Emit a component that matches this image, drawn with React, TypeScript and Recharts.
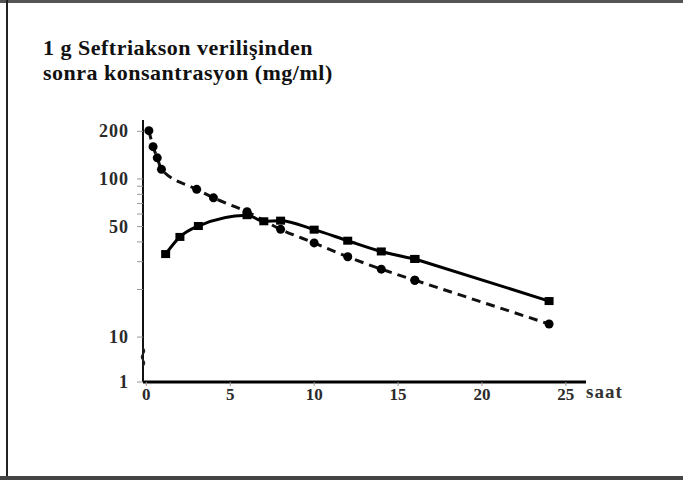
import { LineChart, Line, XAxis, YAxis } from 'recharts';

// hours after the dose / concentration (mg/ml)
const dashedHours = [0.15, 0.4, 0.65, 0.9, 3, 4, 6, 8, 10, 12, 14, 16, 24];
const dashedConc = [202, 160, 136, 115, 86, 76, 62, 48, 39.4, 32.2, 26.9, 22.9, 12.1];
const solidHours = [1.15, 2, 3.1, 6, 7, 8, 10, 12, 14, 16, 24];
const solidConc = [33.5, 43, 50.4, 59, 54, 54.5, 47.8, 40.7, 34.8, 31.2, 16.9];

const xTicks = [0, 5, 10, 15, 20, 25];
// axis is broken below 10: the bottom tick is labelled "1"
const Y_BREAK = 5.2;
const yTicks = [Y_BREAK, 10, 20, 30, 40, 50, 60, 70, 80, 90, 100, 200];
const yTickText = ['1', '10', '', '', '', '50', '', '', '', '', '100', '200'];

const toRows = (hours: number[], conc: number[]) => hours.map((t, i) => ({ t, c: conc[i] }));
const dashedData = toRows(dashedHours, dashedConc);
const solidData = toRows(solidHours, solidConc);
// the last stretch (16 -> 24 h) is a straight line, the rest is smoothed
const dashedCurve = dashedData.slice(0, -1);
const dashedTail = dashedData.slice(-2);
const solidCurve = solidData.slice(0, -1);
const solidTail = solidData.slice(-2);

const serif = "'Liberation Serif', 'Times New Roman', Times, serif";

function YTick(props: any) {
  const { x, y, payload } = props;
  const label = yTickText[yTicks.indexOf(payload.value)];
  const ax = x + 10;
  return (
    <g>
      <text
        x={x - 4}
        y={y}
        dy={6}
        textAnchor="end"
        fontFamily={serif}
        fontWeight="bold"
        fontSize={18}
        letterSpacing={1}
        fill="#2a2a2a"
      >
        {label}
      </text>
      {payload.value === Y_BREAK && (
        <path
          d={`M ${ax} ${y - 34} q 3 3 0 6 q -3 3 0 6 q 3 3 0 6`}
          fill="none"
          stroke="#222"
          strokeWidth={1.5}
        />
      )}
    </g>
  );
}

function CircleDot(props: any) {
  const { cx, cy, index } = props;
  return <circle key={`c${index}`} cx={cx} cy={cy} r={4.5} fill="#000" />;
}

function SquareDot(props: any) {
  const { cx, cy, index } = props;
  return <rect key={`s${index}`} x={cx - 4.5} y={cy - 4} width={9} height={8} fill="#000" />;
}

export default function App() {
  return (
    <div style={{ position: 'absolute', left: 0, top: 0, width: 683, height: 480, background: '#fff' }}>
      <div style={{ position: 'absolute', left: 0, top: 0, width: 683, height: 3, background: '#555' }} />
      <div style={{ position: 'absolute', left: 6, top: 0, width: 2, height: 480, background: '#222' }} />
      <div style={{ position: 'absolute', left: 0, top: 476, width: 683, height: 4, background: '#444' }} />
      <div
        style={{
          position: 'absolute',
          left: 43,
          top: 35,
          fontFamily: serif,
          fontWeight: 'bold',
          fontSize: 22,
          letterSpacing: 0.5,
          lineHeight: '25px',
          color: '#111',
          whiteSpace: 'nowrap',
        }}
      >
        1 g Seftriakson verilişinden
        <br />
        sonra konsantrasyon (mg/ml)
      </div>
      <div
        style={{
          position: 'absolute',
          left: 586,
          top: 381,
          fontFamily: serif,
          fontWeight: 'bold',
          fontSize: 19,
          letterSpacing: 1,
          color: '#333',
        }}
      >
        saat
      </div>
      <LineChart width={683} height={480} margin={{ top: 120, right: 97, bottom: 68, left: 83 }}>
        <XAxis
          type="number"
          dataKey="t"
          domain={[-0.2, 26.2]}
          ticks={xTicks}
          allowDataOverflow
          axisLine={{ stroke: '#000', strokeWidth: 3 }}
          tickLine={{ stroke: '#999' }}
          tickSize={4}
          height={30}
          tick={{ fontFamily: serif, fontWeight: 'bold', fontSize: 17, fill: '#2a2a2a' }}
        />
        <YAxis
          type="number"
          scale="log"
          domain={[Y_BREAK, 236]}
          ticks={yTicks}
          allowDataOverflow
          width={60}
          axisLine={{ stroke: '#111', strokeWidth: 2 }}
          tickLine={{ stroke: '#999' }}
          tickSize={6}
          tickMargin={4}
          tick={<YTick />}
          interval={0}
        />
        <Line
          data={dashedCurve}
          dataKey="c"
          type="monotone"
          stroke="#111"
          strokeWidth={3}
          strokeDasharray="9 6"
          dot={<CircleDot />}
          isAnimationActive={false}
        />
        <Line
          data={dashedTail}
          dataKey="c"
          type="linear"
          stroke="#111"
          strokeWidth={3}
          strokeDasharray="9 6"
          dot={<CircleDot />}
          isAnimationActive={false}
        />
        <Line
          data={solidCurve}
          dataKey="c"
          type="monotone"
          stroke="#000"
          strokeWidth={3}
          dot={<SquareDot />}
          isAnimationActive={false}
        />
        <Line
          data={solidTail}
          dataKey="c"
          type="linear"
          stroke="#000"
          strokeWidth={3}
          dot={<SquareDot />}
          isAnimationActive={false}
        />
      </LineChart>
    </div>
  );
}
